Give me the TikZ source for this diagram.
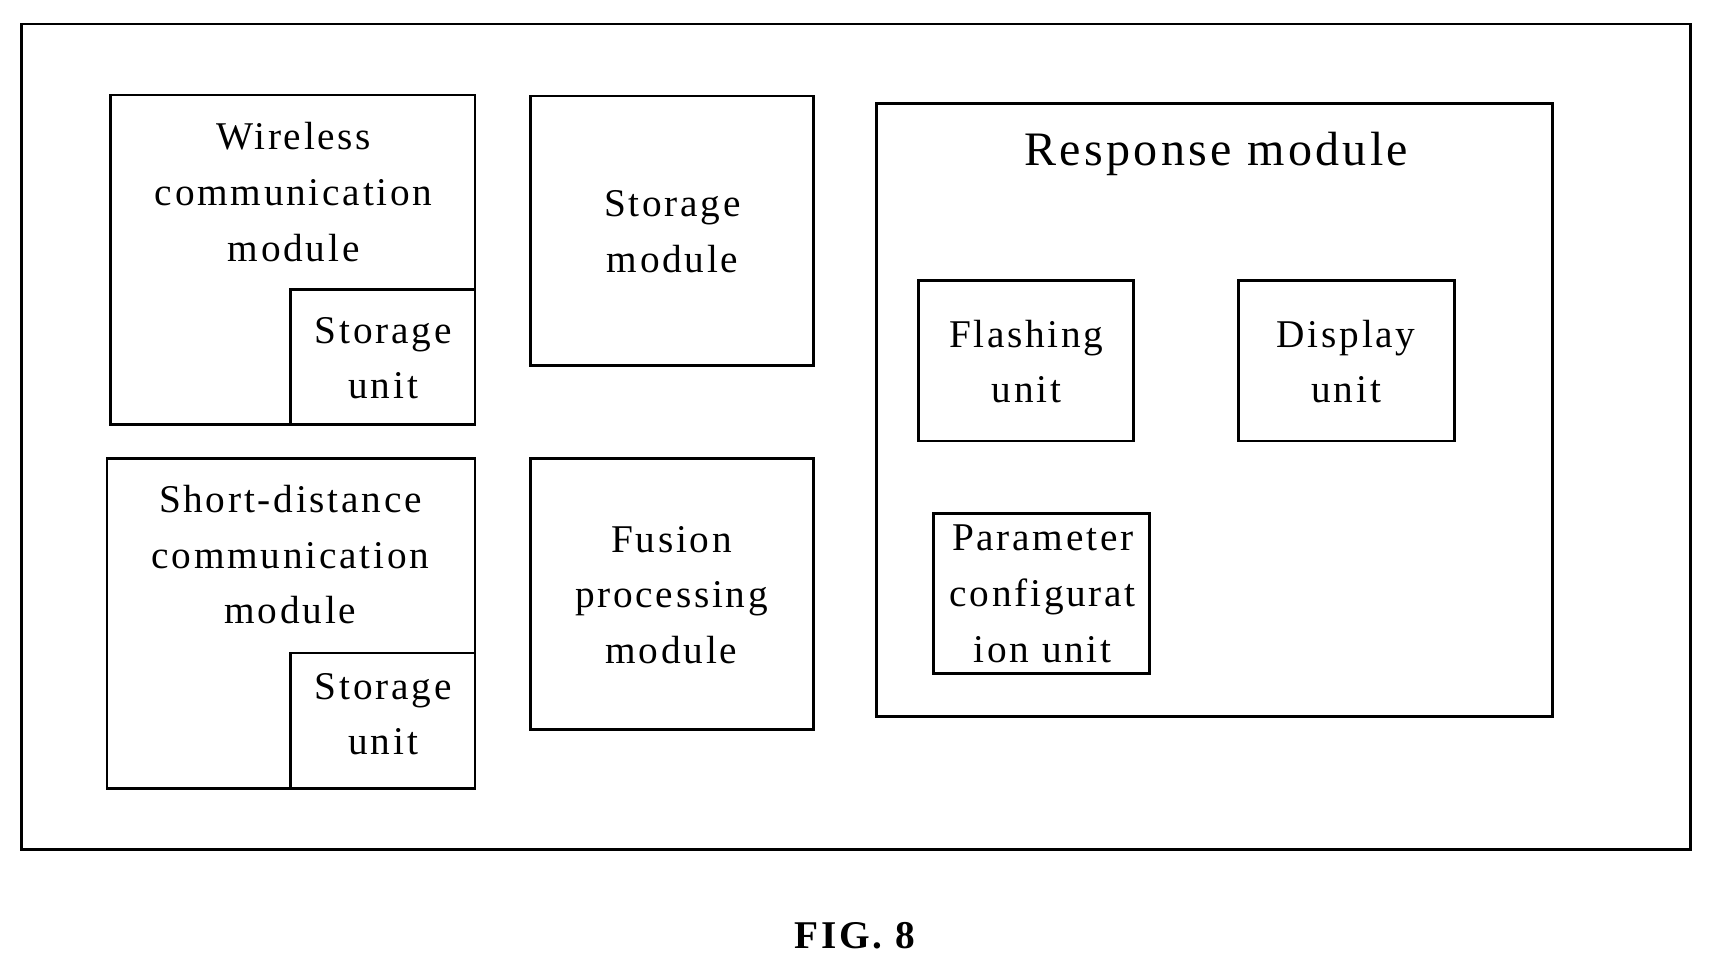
\documentclass[tikz,border=0pt]{standalone}
\usepackage{fontspec}
\setmainfont{Liberation Serif}[LetterSpace=7]
\begin{document}
\begin{tikzpicture}[x=1pt,y=-1pt,
 box/.style={draw,line width=2.5pt},
 lbl/.style={align=center,font=\fontsize{36}{51}\selectfont,inner sep=0pt}]
\useasboundingbox (0,0) rectangle (1568,889);
\draw[box] (20,22) rectangle (1548,778);
\draw[box] (101,87) rectangle (435,389);
\draw[box] (266,265) rectangle (435,389);
\draw[box] (98,420) rectangle (435,722);
\draw[box] (266,598) rectangle (435,722);
\draw[box] (486,88) rectangle (745,335);
\draw[box] (486,420) rectangle (745,668);
\draw[box] (803,95) rectangle (1422,656);
\draw[box] (841,257) rectangle (1038,404);
\draw[box] (1134,257) rectangle (1332,404);
\draw[box] (855,470) rectangle (1053,617);
\node[lbl] (w) at (269,176) {Wireless\\communication\\module};
\node[lbl] (ws) at (351,328) {Storage\\unit};
\node[lbl] (s) at (266,508) {Short-distance\\communication\\module};
\node[lbl] (ss) at (351,654) {Storage\\unit};
\node[lbl] (sm) at (616,212) {Storage\\module};
\node[lbl] (f) at (615,545) {Fusion\\processing\\module};
\node[lbl,font=\fontsize{44}{48}\selectfont] (r) at (1114,141) {Response module};
\node[lbl] (fl) at (940,331) {Flashing\\unit};
\node[lbl] (d) at (1233,331) {Display\\unit};
\node[lbl] (p) at (955,544) {Parameter\\configurat\\ion unit};
\node[font=\fontsize{36}{40}\selectfont\bfseries] (fig) at (783,857) {FIG. 8};
\end{tikzpicture}
\end{document}
